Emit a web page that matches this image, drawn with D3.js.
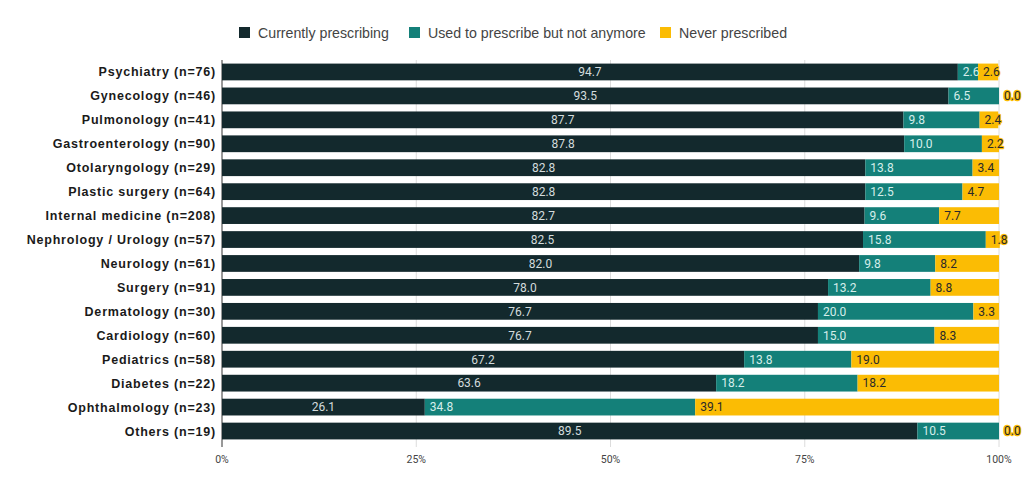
<!DOCTYPE html>
<html><head><meta charset="utf-8">
<script src="https://cdn.jsdelivr.net/npm/d3@7"></script>
<style>body{margin:0;background:#fff;}svg{display:block;}</style>
</head><body>
<svg id="c" width="1024" height="491"></svg>
<script>
const categories = ["Psychiatry (n=76)","Gynecology (n=46)","Pulmonology (n=41)","Gastroenterology (n=90)","Otolaryngology (n=29)","Plastic surgery (n=64)","Internal medicine (n=208)","Nephrology / Urology (n=57)","Neurology (n=61)","Surgery (n=91)","Dermatology (n=30)","Cardiology (n=60)","Pediatrics (n=58)","Diabetes (n=22)","Ophthalmology (n=23)","Others (n=19)"];
const currently = [94.7,93.5,87.7,87.8,82.8,82.8,82.7,82.5,82.0,78.0,76.7,76.7,67.2,63.6,26.1,89.5];
const usedTo = [2.6,6.5,9.8,10.0,13.8,12.5,9.6,15.8,9.8,13.2,20.0,15.0,13.8,18.2,34.8,10.5];
const never = [2.6,0.0,2.4,2.2,3.4,4.7,7.7,1.8,8.2,8.8,3.3,8.3,19.0,18.2,39.1,0.0];
const seriesNames = ["Currently prescribing","Used to prescribe but not anymore","Never prescribed"];
const tickValues = [0,25,50,75,100];

const colors = ["#13292d","#148079","#fbbc04"];
const labelColors = ["#d3dcdd","#d6eeeb","#2a2a2a"];
const seriesData = [currently, usedTo, never];

const svg = d3.select("#c");
const x = d3.scaleLinear().domain([0,100]).range([222,999]);
const y = d3.scaleBand().domain(categories).range([60,443]).paddingInner(0.3).paddingOuter(0.15);

// gridlines
svg.append("g").selectAll("line").data(tickValues).join("line")
  .attr("x1",d=>x(d)).attr("x2",d=>x(d)).attr("y1",60).attr("y2",447)
  .attr("stroke",d=>d===0?"#333":"#dcdcdc").attr("stroke-width",1);

// stacks
const rows = categories.map((c,i)=>{
  let acc=0; return seriesData.map((s,k)=>{const o={cat:c,k,v:s[i],x0:acc,x1:acc+s[i]}; acc+=s[i]; return o;});
});
const flat = rows.flat();
svg.append("g").selectAll("rect").data(flat.filter(d=>d.v>0)).join("rect")
  .attr("x",d=>x(d.x0)).attr("width",d=>x(d.x1)-x(d.x0))
  .attr("y",d=>y(d.cat)).attr("height",y.bandwidth())
  .attr("fill",d=>colors[d.k]);

// value labels
const lg = svg.append("g").attr("font-family","Roboto, sans-serif").attr("font-size",12);
flat.forEach(d=>{
  const cy = y(d.cat)+y.bandwidth()/2;
  let tx, anchor;
  if(d.k===0){ tx=(x(d.x0)+x(d.x1))/2; anchor="middle"; }
  else { tx=x(d.x0)+5; anchor="start"; }
  const t = lg.append("text").attr("x",tx).attr("y",cy).attr("dy","0.36em")
    .attr("text-anchor",anchor).attr("fill",labelColors[d.k]).text(d.v.toFixed(1));
  if(d.k===2){ t.attr("stroke","#fbbc04").attr("stroke-width",2.5).attr("paint-order","stroke").attr("stroke-linejoin","round"); }
});

// category labels
svg.append("g").selectAll("text").data(categories).join("text")
  .attr("x",216).attr("y",d=>y(d)+y.bandwidth()/2).attr("dy","0.36em")
  .attr("text-anchor","end").attr("font-family","Liberation Sans, Arial, sans-serif")
  .attr("font-weight","bold").attr("font-size",12.5).attr("letter-spacing","0.8px").attr("fill","#1a1a1a").text(d=>d);

// x axis labels
svg.append("g").selectAll("text").data(tickValues).join("text")
  .attr("x",d=>x(d)).attr("y",463).attr("text-anchor","middle")
  .attr("font-family","Roboto, sans-serif").attr("font-size",10.5).attr("fill","#444")
  .text(d=>d+"%");

// legend
const legX = [239,409,660];
const leg = svg.append("g");
seriesNames.forEach((n,k)=>{
  leg.append("rect").attr("x",legX[k]).attr("y",27).attr("width",11).attr("height",11).attr("fill",colors[k]);
  leg.append("text").attr("x",legX[k]+19).attr("y",32.5).attr("dy","0.36em")
    .attr("font-family","Liberation Sans, Arial, sans-serif").attr("font-size",14.2).attr("fill","#444").text(n);
});
</script>
</body></html>
